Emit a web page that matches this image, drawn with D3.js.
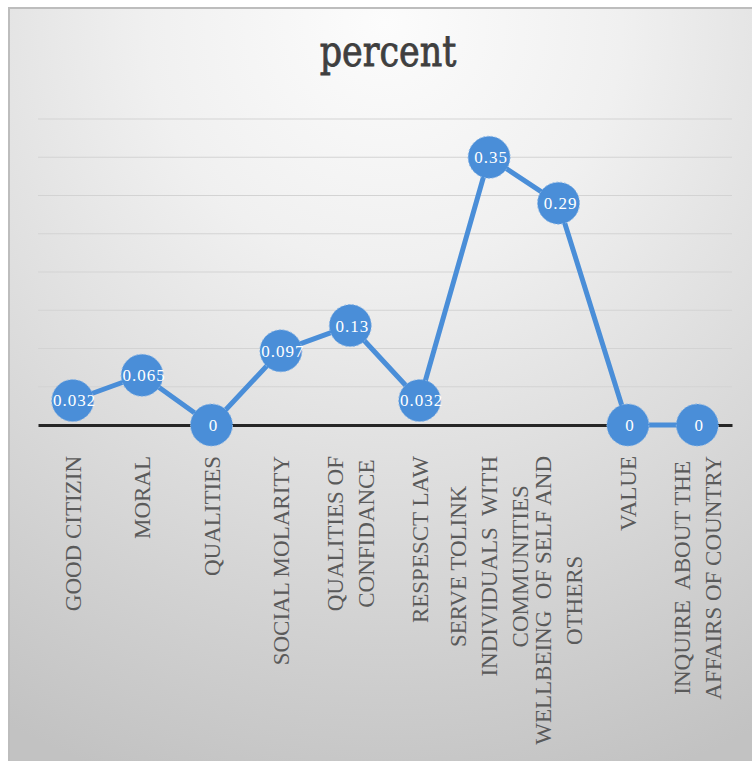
<!DOCTYPE html>
<html>
<head>
<meta charset="utf-8">
<script src="https://cdn.jsdelivr.net/npm/d3@7"></script>
<style>
  html, body { margin: 0; padding: 0; background: #fff; }
  svg { display: block; }
</style>
</head>
<body>
<script>
const categories = [
  ["GOOD CITIZIN"],
  ["MORAL"],
  ["QUALITIES"],
  ["SOCIAL MOLARITY"],
  ["QUALITIES OF", "CONFIDANCE"],
  ["RESPESCT LAW"],
  ["SERVE TOLINK", "INDIVIDUALS  WITH", "COMMUNITIES"],
  ["WELLBEING  OF SELF AND", "OTHERS"],
  ["VALUE"],
  ["INQUIRE  ABOUT THE", "AFFAIRS OF COUNTRY"]
];
const values      = [0.032, 0.065, 0, 0.097, 0.13, 0.032, 0.35, 0.29, 0, 0];
const valueLabels = ["0.032", "0.065", "0", "0.097", "0.13", "0.032", "0.35", "0.29", "0", "0"];
const gridTicks   = [0, 0.05, 0.1, 0.15, 0.2, 0.25, 0.3, 0.35, 0.4];

const width  = 752;
const height = 761;
const blue   = "#4a8ed8";

const svg = d3.select("body").append("svg")
  .attr("width", width)
  .attr("height", height);

const defs = svg.append("defs");
const bg   = defs.append("radialGradient")
  .attr("id", "bg")
  .attr("cx", "50%").attr("cy", "2%").attr("r", "105%")
  .attr("fx", "50%").attr("fy", "2%");
bg.append("stop").attr("offset", "0%").attr("stop-color", "#fcfcfc");
bg.append("stop").attr("offset", "30%").attr("stop-color", "#f0f0f0");
bg.append("stop").attr("offset", "100%").attr("stop-color", "#c2c2c2");

// chart area frame
svg.append("rect")
  .attr("x", 9).attr("y", 8)
  .attr("width", width).attr("height", height)
  .attr("fill", "url(#bg)")
  .attr("stroke", "#bdbdbd")
  .attr("stroke-width", 2);

const plot = {left: 38, right: 732, top: 119, bottom: 425};

const x = d3.scalePoint()
  .domain(d3.range(values.length))
  .range([plot.left, plot.right])
  .padding(0.5);

const y = d3.scaleLinear()
  .domain([0, 0.4])
  .range([plot.bottom, plot.top]);

// title
svg.append("text")
  .attr("transform", "translate(388,66) scale(1,1.22)")
  .attr("text-anchor", "middle")
  .attr("font-family", "DejaVu Serif")
  .attr("font-size", 35)
  .attr("fill", "#3f3f3f")
  .attr("stroke", "#3f3f3f")
  .attr("stroke-width", 0.7)
  .text("percent");

// gridlines
svg.append("g")
  .selectAll("line")
  .data(gridTicks.filter(d => d > 0))
  .join("line")
  .attr("x1", plot.left).attr("x2", plot.right)
  .attr("y1", d => y(d)).attr("y2", d => y(d))
  .attr("stroke", "#d3d3d3")
  .attr("stroke-width", 1.2);

// x axis
const xAxis = svg.append("g")
  .attr("transform", `translate(0,${plot.bottom})`)
  .call(d3.axisBottom(d3.scaleLinear().range([plot.left, plot.right])).ticks(0).tickSizeOuter(0));
xAxis.select(".domain")
  .attr("stroke", "#262626")
  .attr("stroke-width", 3);

// category labels, rotated
const labelTop  = 456;
const lineStep  = 31;
const labelG = svg.append("g")
  .selectAll("g")
  .data(categories)
  .join("g");

labelG.each(function(lines, i) {
  const g = d3.select(this);
  const texts = g.selectAll("text")
    .data(lines)
    .join("text")
    .attr("text-anchor", "middle")
    .attr("font-family", "Liberation Serif")
    .attr("font-size", 23)
    .attr("fill", "#5a5a5a")
    .style("white-space", "pre")
    .attr("dy", "0.35em")
    .attr("y", (d, j) => (j - (lines.length - 1) / 2) * lineStep)
    .text(d => d);
  const maxLen = d3.max(texts.nodes(), n => n.getComputedTextLength());
  texts.attr("x", -maxLen / 2);
  g.attr("transform", `translate(${x(i)},${labelTop}) rotate(-90)`);
});

// line
svg.append("path")
  .datum(values)
  .attr("fill", "none")
  .attr("stroke", blue)
  .attr("stroke-width", 5)
  .attr("stroke-linejoin", "round")
  .attr("d", d3.line().x((d, i) => x(i)).y(d => y(d)));

// markers
svg.append("g")
  .selectAll("circle")
  .data(values)
  .join("circle")
  .attr("cx", (d, i) => x(i))
  .attr("cy", d => y(d))
  .attr("r", 21)
  .attr("fill", blue)
  .attr("stroke", "#8ab6e6")
  .attr("stroke-width", 1)
  .attr("stroke-dasharray", "2,2");

// data labels
svg.append("g")
  .selectAll("text")
  .data(values)
  .join("text")
  .attr("x", (d, i) => x(i) + 2)
  .attr("y", d => y(d))
  .attr("dy", "0.35em")
  .attr("text-anchor", "middle")
  .attr("font-family", "Liberation Serif")
  .attr("font-size", 17)
  .attr("letter-spacing", 1)
  .attr("fill", "#ffffff")
  .text((d, i) => valueLabels[i]);
</script>
</body>
</html>
